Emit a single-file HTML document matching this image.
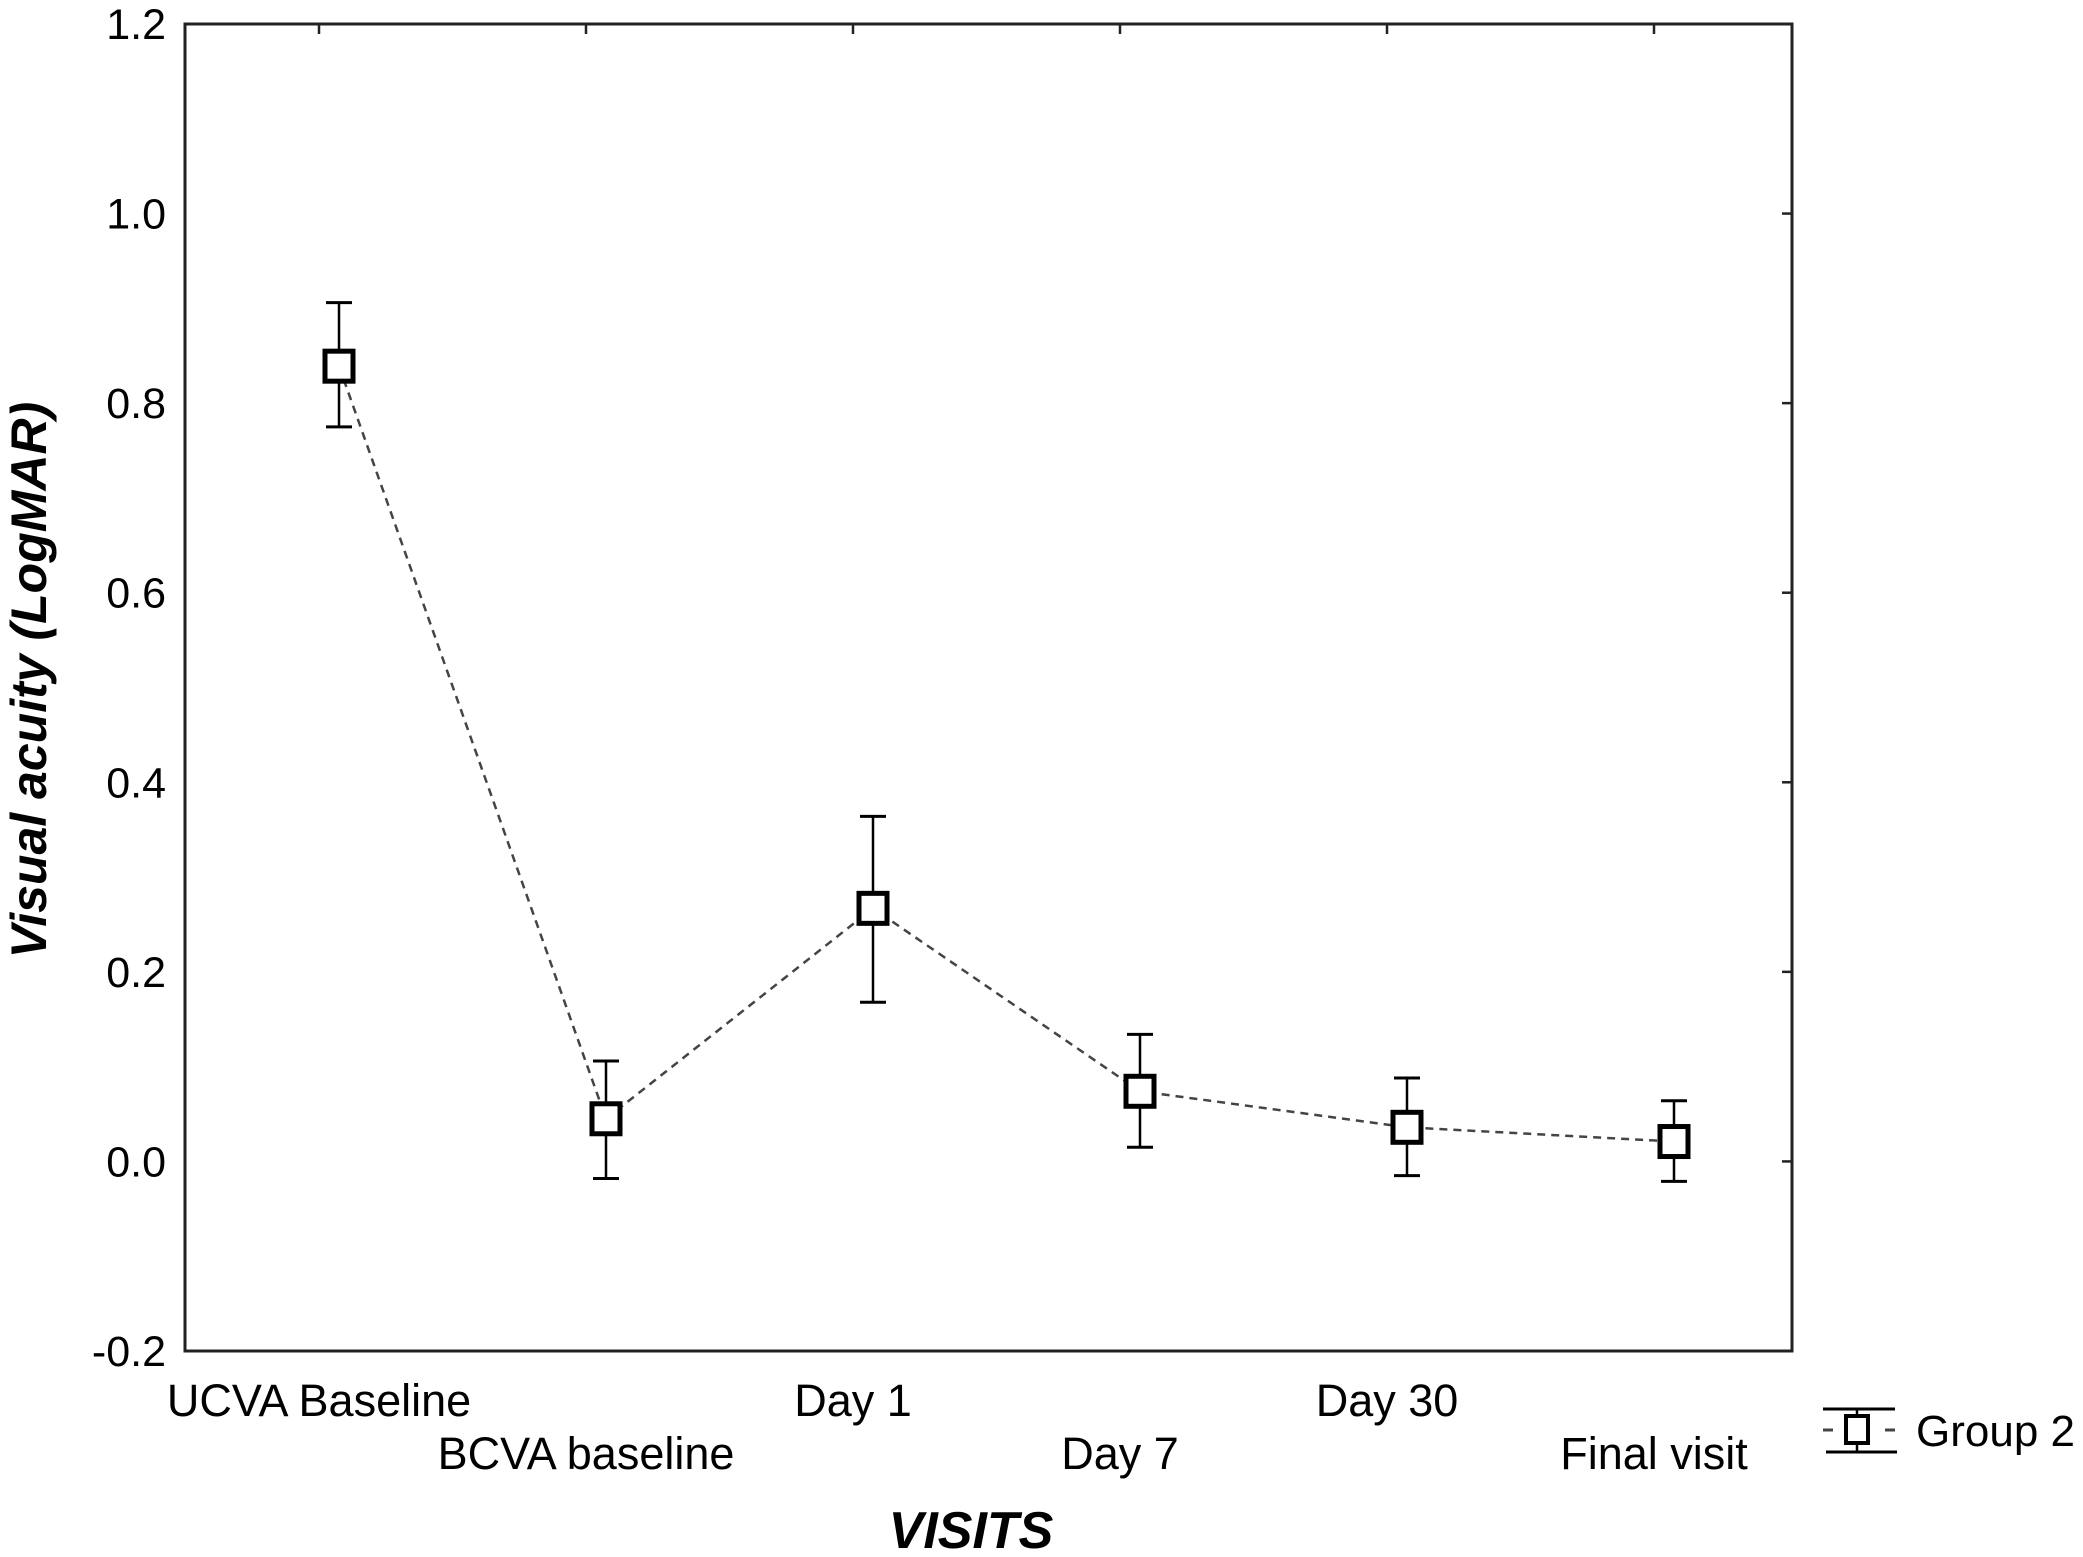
<!DOCTYPE html>
<html><head><meta charset="utf-8"><style>
html,body{margin:0;padding:0;background:#fff}
svg{display:block;font-family:"Liberation Sans",Arial,sans-serif}
</style></head><body>
<svg id="chart" width="2083" height="1557" viewBox="0 0 2083 1557" xmlns="http://www.w3.org/2000/svg">
<rect x="0" y="0" width="2083" height="1557" fill="#fff"/>
<g id="plot"></g>
<text transform="translate(46,680) rotate(-90)" text-anchor="middle" font-size="50" font-weight="bold" font-style="italic" fill="#000">Visual acuity (LogMAR)</text>
<text x="971" y="1548" text-anchor="middle" font-size="52" font-weight="bold" font-style="italic" fill="#000">VISITS</text>
<g>
<line x1="1823" y1="1409" x2="1895" y2="1409" stroke="#000" stroke-width="3"/>
<line x1="1826" y1="1452" x2="1897" y2="1452" stroke="#000" stroke-width="3"/>
<line x1="1857" y1="1409" x2="1857" y2="1452" stroke="#000" stroke-width="2.5"/>
<line x1="1823" y1="1430" x2="1833" y2="1430" stroke="#444" stroke-width="3"/>
<line x1="1885" y1="1430" x2="1895" y2="1430" stroke="#444" stroke-width="3"/>
<rect x="1846" y="1416" width="22" height="27" fill="#fff" stroke="#000" stroke-width="4"/>
<text x="1916" y="1446" font-size="44" fill="#000">Group 2</text>
</g>
</svg>
<script>
const categories = ["UCVA Baseline","BCVA baseline","Day 1","Day 7","Day 30","Final visit"];
const means = [0.839, 0.045, 0.267, 0.074, 0.036, 0.021];
const upper = [0.906, 0.106, 0.364, 0.134, 0.088, 0.064];
const lower = [0.775, -0.018, 0.168, 0.015, -0.015, -0.021];
const yTicks = [-0.2, 0.0, 0.2, 0.4, 0.6, 0.8, 1.0, 1.2];
const yTickLabels = ["-0.2","0.0","0.2","0.4","0.6","0.8","1.0","1.2"];

const NS = "http://www.w3.org/2000/svg";
const L = 185, R = 1792, T = 24, B = 1351;
const yMin = -0.2, yMax = 1.2;
function y(v){ return B - (v - yMin) / (yMax - yMin) * (B - T); }
function xPt(i){ return 339 + i * 267; }
function xLab(i){ return 319 + i * 267; }
const g = document.getElementById('plot');
function mk(tag, attrs){ const e = document.createElementNS(NS, tag); for (const k in attrs) e.setAttribute(k, attrs[k]); g.appendChild(e); return e; }

const frame = mk('rect', {x:L, y:T, width:R-L, height:B-T, fill:'none', stroke:'#222', 'stroke-width':3});



yTicks.forEach((v, i) => {
  const t = mk('line', {x1:R-10, y1:y(v), x2:R, y2:y(v), stroke:'#222', 'stroke-width':2.5});
  
  
  const tx = mk('text', {x:166, y:y(v)+15, 'text-anchor':'end', 'font-size':43, fill:'#000'});
  tx.textContent = yTickLabels[i];
  
  
});

categories.forEach((c, i) => {
  const t1 = mk('line', {x1:xLab(i), y1:T, x2:xLab(i), y2:T+10, stroke:'#222', 'stroke-width':2.5});
  
  
  const tx = mk('text', {x:xLab(i), y:(i % 2 === 0) ? 1416 : 1469, 'text-anchor':'middle', 'font-size':45, fill:'#000'});
  tx.textContent = c;
  
  
});

const pts = means.map((m, i) => xPt(i) + ',' + y(m)).join(' ');
const line = mk('polyline', {points:pts, fill:'none', stroke:'#444', 'stroke-width':2.5, 'stroke-dasharray':'8 6'});



means.forEach((m, i) => {
  const x = xPt(i);
  const w = mk('line', {x1:x, y1:y(upper[i]), x2:x, y2:y(lower[i]), stroke:'#000', 'stroke-width':2.5});
  
  
  [upper[i], lower[i]].forEach(v => {
    const cap = mk('line', {x1:x-13, y1:y(v), x2:x+13, y2:y(v), stroke:'#000', 'stroke-width':3});
    
    
  });
  const r = mk('rect', {x:x-14, y:y(m)-15, width:28, height:30, fill:'#fff', stroke:'#000', 'stroke-width':5});
  
  
});
</script>
</body></html>
